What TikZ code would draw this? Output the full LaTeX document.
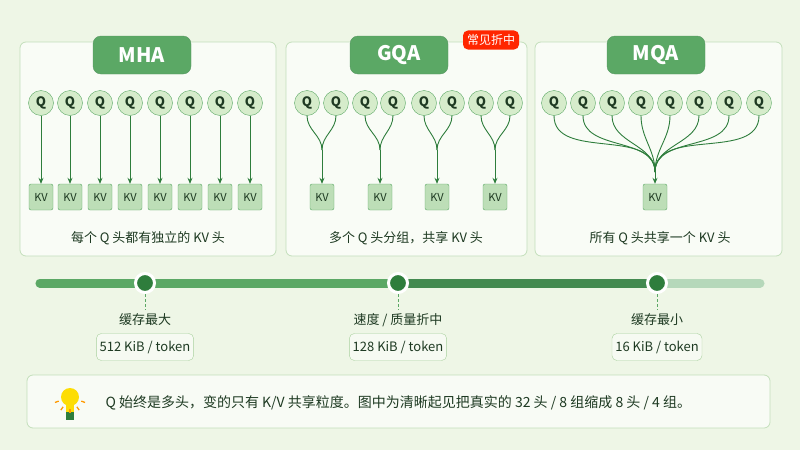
\documentclass[tikz,border=0pt]{standalone}
\usepackage{fontspec}
\setmainfont{Noto Sans CJK SC}
\usetikzlibrary{arrows.meta,positioning,calc}
\definecolor{bgc}{HTML}{EEF6E6}
\definecolor{dkg}{HTML}{2E7D3C}
\definecolor{mdg}{HTML}{5BA865}
\definecolor{lgg}{HTML}{D6ECCB}
\definecolor{edg}{HTML}{A9D19E}
\definecolor{txt}{HTML}{1E3A22}
\tikzset{
  x=1pt,y=-1pt,
  >={Stealth[length=6pt,width=5pt]},
  panel/.style={
    draw=edg!70,fill=white!65!bgc,rounded corners=6pt,line width=0.8pt
  },
  pill/.style={
    fill=mdg,draw=dkg!80,rounded corners=8pt,text=white,
    minimum width=98pt,minimum height=38pt,font=\fontsize{20}{20}\selectfont\bfseries
  },
  qhead/.style={
    circle,draw=mdg,fill=lgg,minimum size=25pt,inner sep=0pt,
    text=txt,font=\fontsize{13}{13}\selectfont\bfseries
  },
  kv/.style={
    draw=mdg,fill=lgg!80!mdg,rounded corners=2pt,minimum width=24pt,
    minimum height=26pt,inner sep=0pt,text=txt,font=\fontsize{11}{11}\selectfont
  },
  link/.style={->,dkg,line width=0.9pt},
  caption/.style={text=txt,font=\fontsize{13}{13}\selectfont},
  cost/.style={
    draw=edg,fill=white!50!bgc,rounded corners=5pt,minimum width=76pt,
    minimum height=27pt,text=txt,font=\fontsize{13}{13}\selectfont
  },
  stop/.style={circle,draw=white,line width=3pt,fill=dkg,minimum size=19pt,inner sep=0pt}
}
\begin{document}
\begin{tikzpicture}
\useasboundingbox[fill=bgc] (0,0) rectangle (800,450);
% panels
\draw[panel] (20,42) rectangle (276,256);
\draw[panel] (286,42) rectangle (527,256);
\draw[panel] (535,42) rectangle (782,256);
\node[pill] (mha) at (142,55) {MHA};
\node[pill] (gqa) at (399,55) {GQA};
\node[pill] (mqa) at (656,55) {MQA};
\node[fill=red!70!orange,text=white,rounded corners=5pt,inner sep=4pt,
  font=\fontsize{12}{12}\selectfont] (badge) at (491,40) {常见折中};
% MHA
\foreach \i/\x in {1/41,2/70,3/100,4/130,5/160,6/190,7/220,8/250}{
  \node[qhead] (mq\i) at (\x,103) {Q};
  \node[kv] (mk\i) at (\x,197) {KV};
  \draw[link] (mq\i) -- (mk\i);
}
\node[caption] (mcap) at (148,238) {每个 Q 头都有独立的 KV 头};
% GQA
\foreach \i/\x in {1/307,2/336,3/365,4/393,5/424,6/452,7/481,8/510}
  \node[qhead] (gq\i) at (\x,103) {Q};
\foreach \g/\x/\a/\b in {1/322/1/2,2/380/3/4,3/437/5/6,4/495/7/8}{
  \node[kv] (gk\g) at (\x,197) {KV};
  \coordinate (gj\g) at (\x,150);
  \draw[dkg,line width=0.9pt] (gq\a.south) to[out=-90,in=90] (gj\g);
  \draw[dkg,line width=0.9pt] (gq\b.south) to[out=-90,in=90] (gj\g);
  \draw[link] (gj\g) -- (gk\g);
}
\node[caption] (gcap) at (406,238) {多个 Q 头分组，共享 KV 头};
% MQA
\node[kv] (qk) at (655,197) {KV};
\coordinate (qj) at (655,172);
\foreach \i/\x in {1/554,2/583,3/612,4/641,5/670,6/699,7/729,8/759}{
  \node[qhead] (qq\i) at (\x,103) {Q};
  \draw[dkg,line width=0.9pt] (qq\i.south) to[out=-90,in=90] (qj);
}
\draw[link] (qj) -- (qk);
\node[caption] (qcap) at (660,238) {所有 Q 头共享一个 KV 头};
% timeline
\draw[line width=9pt,line cap=round,mdg!45] (40,283) -- (760,283);
\draw[line width=9pt,line cap=round,mdg] (40,283) -- (657,283);
\draw[line width=9pt,dkg!90] (398,283) -- (657,283);
\foreach \n/\x/\lab/\val in {a/145/{缓存最大}/{512 KiB / token},
    b/398/{速度 / 质量折中}/{128 KiB / token},c/657/{缓存最小}/{16 KiB / token}}{
  \node[stop] (t\n) at (\x,283) {};
  \node[caption] (l\n) at (\x,320) {\lab};
  \node[cost] (c\n) at (\x,347) {\val};
  \draw[densely dashed,mdg,line width=0.6pt] (t\n) -- (l\n);
}
% tip
\draw[panel,fill=white!60!bgc] (27,375) rectangle (770,428);
\fill[yellow!80!orange] (70,397) circle (9pt);
\fill[yellow!80!orange] (66,404) rectangle (74,412);
\fill[dkg] (66,412) rectangle (74,420);
\foreach \a in {-20,-55,-90,-125,-160}
  \draw[orange!80!yellow,line width=1.3pt] ($(70,397)+(\a:12pt)$) -- ($(70,397)+(\a:16pt)$);
\node[caption,anchor=west,font=\fontsize{14}{14}\selectfont] (tip) at (102,403)
  {Q 始终是多头，变的只有 K/V 共享粒度。图中为清晰起见把真实的 32 头 / 8 组缩成 8 头 / 4 组。};
\end{tikzpicture}
\end{document}
